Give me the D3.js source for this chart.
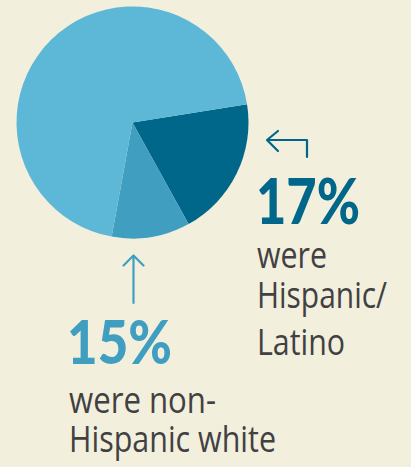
<!DOCTYPE html>
<html>
<head>
<meta charset="utf-8">
<script src="https://cdn.jsdelivr.net/npm/d3@7"></script>
<style>
  html, body { margin: 0; padding: 0; background: #f2efdc; }
  svg { display: block; }
</style>
</head>
<body>
<svg id="chart" width="411" height="467"></svg>
<script>
// ---- data ----
const categories = ["Hispanic/Latino", "non-Hispanic white", "Other"];
const sliceShares = [19.5, 10.9, 69.6];          // drawn slice sizes (% of circle)
const labelValues = [17, 15];                    // printed percentages
const labelLines = [["were", "Hispanic/", "Latino"], ["were non-", "Hispanic white"]];
const colors = ["#00678a", "#409ec0", "#5db7d7"];

const svg = d3.select("#chart");
const W = 411, H = 467;
svg.append("rect").attr("width", W).attr("height", H).attr("fill", "#f2efdc");

const cx = 132.5, cy = 122.5, R = 116;
const startDeg = 80.9;

const pie = d3.pie().sort(null).value(d => d)
  .startAngle(startDeg * Math.PI / 180)
  .endAngle((startDeg + 360) * Math.PI / 180);
const arc = d3.arc().innerRadius(0).outerRadius(R);

const g = svg.append("g").attr("transform", `translate(${cx},${cy})`);
g.selectAll("path").data(pie(sliceShares)).join("path")
  .attr("d", arc)
  .attr("fill", (d, i) => colors[i]);

const textColor = "#414042";
const bigFont = "Lato, 'Open Sans', sans-serif";
const smallFont = "'Open Sans', Lato, sans-serif";

function fitText(sel, width) {
  sel.attr("textLength", width).attr("lengthAdjust", "spacingAndGlyphs");
}

// ---- right label (17%) ----
svg.append("path")
  .attr("d", "M267,140 L307,140 L307,157 M278,131 L267,140 L278,151")
  .attr("fill", "none").attr("stroke", colors[0]).attr("stroke-width", 2.2)
  .attr("stroke-linecap", "round").attr("stroke-linejoin", "round");

svg.append("text").attr("x", 256).attr("y", 224)
  .attr("font-family", bigFont).attr("font-weight", 900).attr("font-size", 63)
  .attr("fill", colors[0]).text(labelValues[0] + "%")
  .call(fitText, 104);

const rightBase = [268, 308, 355];
const rightW = [70, 130, 88];
labelLines[0].forEach((t, i) => {
  svg.append("text").attr("x", 257).attr("y", rightBase[i])
    .attr("font-family", smallFont).attr("font-size", 36)
    .attr("fill", textColor).text(t).call(fitText, rightW[i]);
});

// ---- bottom label (15%) ----
svg.append("path")
  .attr("d", "M133.5,303 L133.5,255.5 M123.5,265.5 L133.5,255.5 L143.5,265.5")
  .attr("fill", "none").attr("stroke", colors[1]).attr("stroke-width", 2.2)
  .attr("stroke-linecap", "round").attr("stroke-linejoin", "round");

svg.append("text").attr("x", 67).attr("y", 364)
  .attr("font-family", bigFont).attr("font-weight", 900).attr("font-size", 61)
  .attr("fill", colors[1]).text(labelValues[1] + "%")
  .call(fitText, 105);

const leftBase = [413, 452];
const leftW = [147, 207];
labelLines[1].forEach((t, i) => {
  svg.append("text").attr("x", 69).attr("y", leftBase[i])
    .attr("font-family", smallFont).attr("font-size", 36)
    .attr("fill", textColor).text(t).call(fitText, leftW[i]);
});
</script>
</body>
</html>
